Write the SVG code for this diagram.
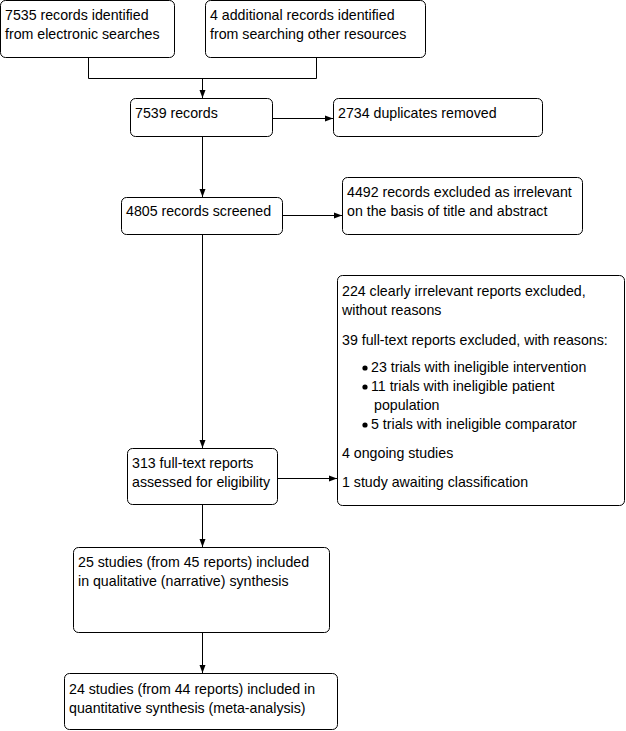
<svg xmlns="http://www.w3.org/2000/svg" width="626" height="731" viewBox="0 0 626 731">
<style>
.box{fill:#fff;stroke:#000;stroke-width:1}
text{font-family:"Liberation Sans",Arial,sans-serif;font-size:14.2px;fill:#000}
.ln{fill:none;stroke:#000;stroke-width:1}
</style>
<defs>
<marker id="ah" viewBox="0 0 8 8" refX="8" refY="4" markerWidth="8" markerHeight="8" markerUnits="userSpaceOnUse" orient="auto">
<path d="M0,1 L8,4 L0,7 Z" fill="#000"/>
</marker>
</defs>
<rect width="626" height="731" fill="#fff"/>
<g id="connectors">
<polyline class="ln" points="88.5,57.5 88.5,78.5 316.5,78.5 316.5,57.5"/>
<line class="ln" x1="202.5" y1="78.5" x2="202.5" y2="98" marker-end="url(#ah)"/>
<line class="ln" x1="273" y1="118.5" x2="333" y2="118.5" marker-end="url(#ah)"/>
<line class="ln" x1="202.5" y1="136.5" x2="202.5" y2="197" marker-end="url(#ah)"/>
<line class="ln" x1="283" y1="215.5" x2="342" y2="215.5" marker-end="url(#ah)"/>
<line class="ln" x1="202.5" y1="234.5" x2="202.5" y2="448" marker-end="url(#ah)"/>
<line class="ln" x1="277" y1="478.5" x2="337" y2="478.5" marker-end="url(#ah)"/>
<line class="ln" x1="202.5" y1="504.5" x2="202.5" y2="547" marker-end="url(#ah)"/>
<line class="ln" x1="202.5" y1="632.5" x2="202.5" y2="673" marker-end="url(#ah)"/>
</g>
<g id="n1">
<rect class="box" x="0.5" y="0.5" width="174" height="57" rx="5"/>
<text x="5" y="20">7535 records identified</text>
<text x="5" y="39">from electronic searches</text>
</g>
<g id="n2">
<rect class="box" x="205.5" y="0.5" width="220" height="57" rx="5"/>
<text x="210" y="20">4 additional records identified</text>
<text x="210" y="39">from searching other resources</text>
</g>
<g id="n3">
<rect class="box" x="130.5" y="98.5" width="142" height="38" rx="5"/>
<text x="135" y="118">7539 records</text>
</g>
<g id="n4">
<rect class="box" x="333.5" y="98.5" width="209" height="38" rx="5"/>
<text x="338" y="118">2734 duplicates removed</text>
</g>
<g id="n5">
<rect class="box" x="121.5" y="197.5" width="161" height="37" rx="5"/>
<text x="126" y="216">4805 records screened</text>
</g>
<g id="n6">
<rect class="box" x="342.5" y="177.5" width="240" height="57" rx="5"/>
<text x="347" y="197">4492 records excluded as irrelevant</text>
<text x="347" y="216">on the basis of title and abstract</text>
</g>
<g id="n7">
<rect class="box" x="127.5" y="448.5" width="150" height="56" rx="5"/>
<text x="132" y="468">313 full-text reports</text>
<text x="132" y="487">assessed for eligibility</text>
</g>
<g id="n8">
<rect class="box" x="337.5" y="275.5" width="287" height="230" rx="5"/>
<text x="342" y="296">224 clearly irrelevant reports excluded,</text>
<text x="342" y="315">without reasons</text>
<text x="342" y="345">39 full-text reports excluded, with reasons:</text>
<circle cx="365" cy="368" r="2.6"/>
<text x="371" y="372">23 trials with ineligible intervention</text>
<circle cx="365" cy="387" r="2.6"/>
<text x="371" y="391">11 trials with ineligible patient</text>
<text x="374" y="410">population</text>
<circle cx="365" cy="425" r="2.6"/>
<text x="371" y="429">5 trials with ineligible comparator</text>
<text x="342" y="458">4 ongoing studies</text>
<text x="342" y="487">1 study awaiting classification</text>
</g>
<g id="n9">
<rect class="box" x="73.5" y="547.5" width="256" height="85" rx="5"/>
<text x="78" y="567">25 studies (from 45 reports) included</text>
<text x="78" y="586">in qualitative (narrative) synthesis</text>
</g>
<g id="n10">
<rect class="box" x="64.5" y="673.5" width="273" height="56" rx="5"/>
<text x="69" y="694">24 studies (from 44 reports) included in</text>
<text x="69" y="713">quantitative synthesis (meta-analysis)</text>
</g>
</svg>
